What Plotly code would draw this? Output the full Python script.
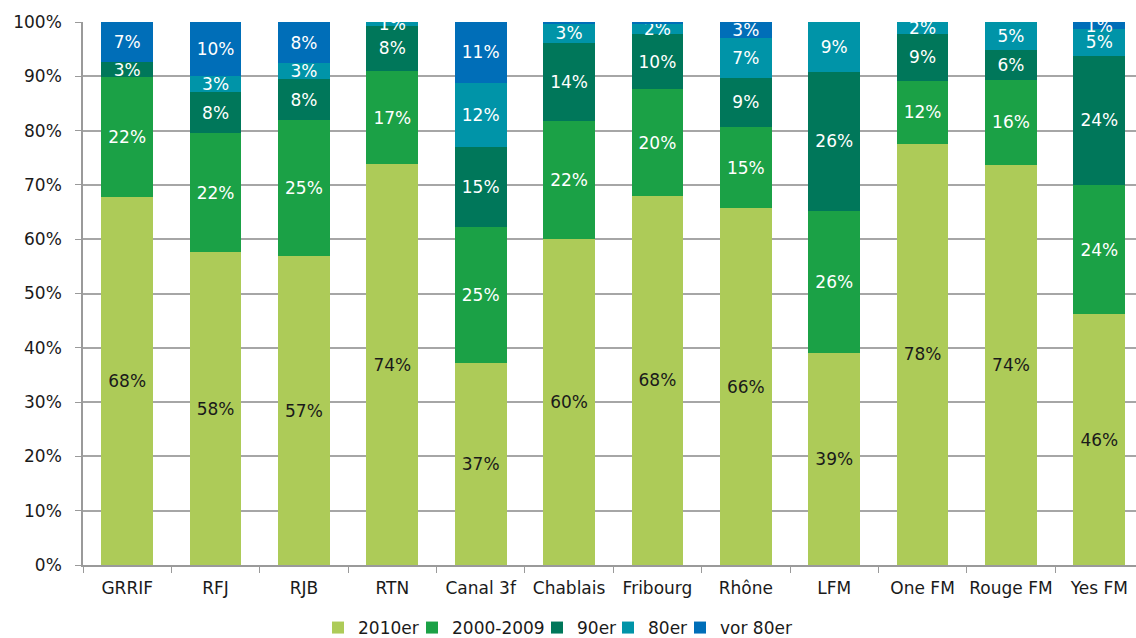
import plotly.graph_objects as go

categories = ["GRRIF", "RFJ", "RJB", "RTN", "Canal 3f", "Chablais", "Fribourg",
              "Rhône", "LFM", "One FM", "Rouge FM", "Yes FM"]

s_2010er = [67.8, 57.6, 56.9, 73.8, 37.2, 60.1, 68.0, 65.7, 39.0, 77.6, 73.7, 46.2]
s_2000_2009 = [22.1, 21.9, 25.0, 17.2, 25.0, 21.7, 19.6, 15.0, 26.2, 11.6, 15.6, 23.8]
s_90er = [2.7, 7.6, 7.6, 8.3, 14.8, 14.4, 10.2, 9.0, 25.6, 8.6, 5.6, 23.8]
s_80er = [0.0, 2.9, 2.9, 0.7, 11.8, 3.4, 1.8, 7.4, 9.2, 2.2, 5.1, 4.9]
s_vor80er = [7.4, 10.0, 7.6, 0.0, 11.2, 0.4, 0.4, 2.9, 0.0, 0.0, 0.0, 1.3]

series = [
    ("2010er", s_2010er, "#ADCB58", "#1a1a1a"),
    ("2000-2009", s_2000_2009, "#1BA146", "white"),
    ("90er", s_90er, "#00775A", "white"),
    ("80er", s_80er, "#0094A8", "white"),
    ("vor 80er", s_vor80er, "#006EB8", "white"),
]

FONT = "DejaVu Sans"
FS = 17
# left pixel positions where each legend text starts in the reference
legend_text_px = [358, 452, 577, 648, 720]

W, H = 1136, 646
ML, MR, MT, MB = 83, 0, 22, 81
plot_w = W - ML - MR
plot_h = H - MT - MB

fig = go.Figure()
legend_layout = {}
for i, (name, vals, color, tcolor) in enumerate(series):
    lname = "legend" if i == 0 else f"legend{i + 1}"
    texts = [f"{v:.0f}%" if round(v) >= 1 else "" for v in vals]
    fig.add_trace(go.Bar(
        name=name, x=categories, y=vals,
        marker=dict(color=color, line=dict(width=0)),
        text=texts, textposition="inside", insidetextanchor="middle",
        textangle=0, constraintext="none",
        textfont=dict(family=FONT, size=FS, color=tcolor),
        hoverinfo="skip", legend=lname,
    ))
    legend_layout[lname] = dict(
        orientation="h", x=(legend_text_px[i] - 40 - ML) / plot_w, xanchor="left",
        y=-(H - MT - plot_h) / plot_h, yanchor="bottom",
        font=dict(family=FONT, size=FS, color="#1a1a1a"),
        itemwidth=30, bgcolor="rgba(0,0,0,0)", borderwidth=0,
    )

fig.update_layout(
    barmode="stack",
    bargap=0.415,
    width=W, height=H,
    margin=dict(l=ML, r=MR, t=MT, b=MB),
    plot_bgcolor="white", paper_bgcolor="white",
    font=dict(family=FONT, size=FS, color="#1a1a1a"),
    uniformtext=dict(mode="show", minsize=FS),
    showlegend=True,
    **legend_layout,
)
fig.update_xaxes(
    type="category", range=[-0.5, 11.415], automargin=False,
    showline=True, linecolor="#9a9a9a", linewidth=1.5,
    ticks="outside", tickson="boundaries", ticklen=6, tickcolor="#9a9a9a",
    tickangle=0, ticklabelstandoff=7,
    tickfont=dict(family=FONT, size=FS, color="#1a1a1a"),
    showgrid=False,
)
fig.update_yaxes(
    range=[0, 100], dtick=10, ticksuffix="%", automargin=False,
    showline=True, linecolor="#9a9a9a", linewidth=1.5,
    ticks="outside", ticklen=6, tickcolor="#9a9a9a",
    ticklabelstandoff=10,
    showgrid=True, gridcolor="#a6a6a6", gridwidth=1.5,
    tickfont=dict(family=FONT, size=FS, color="#1a1a1a"),
    zeroline=False,
)

fig.write_html("out.html", config={"displayModeBar": False},
               post_script="document.body.style.margin='0';document.body.style.overflow='hidden';")
